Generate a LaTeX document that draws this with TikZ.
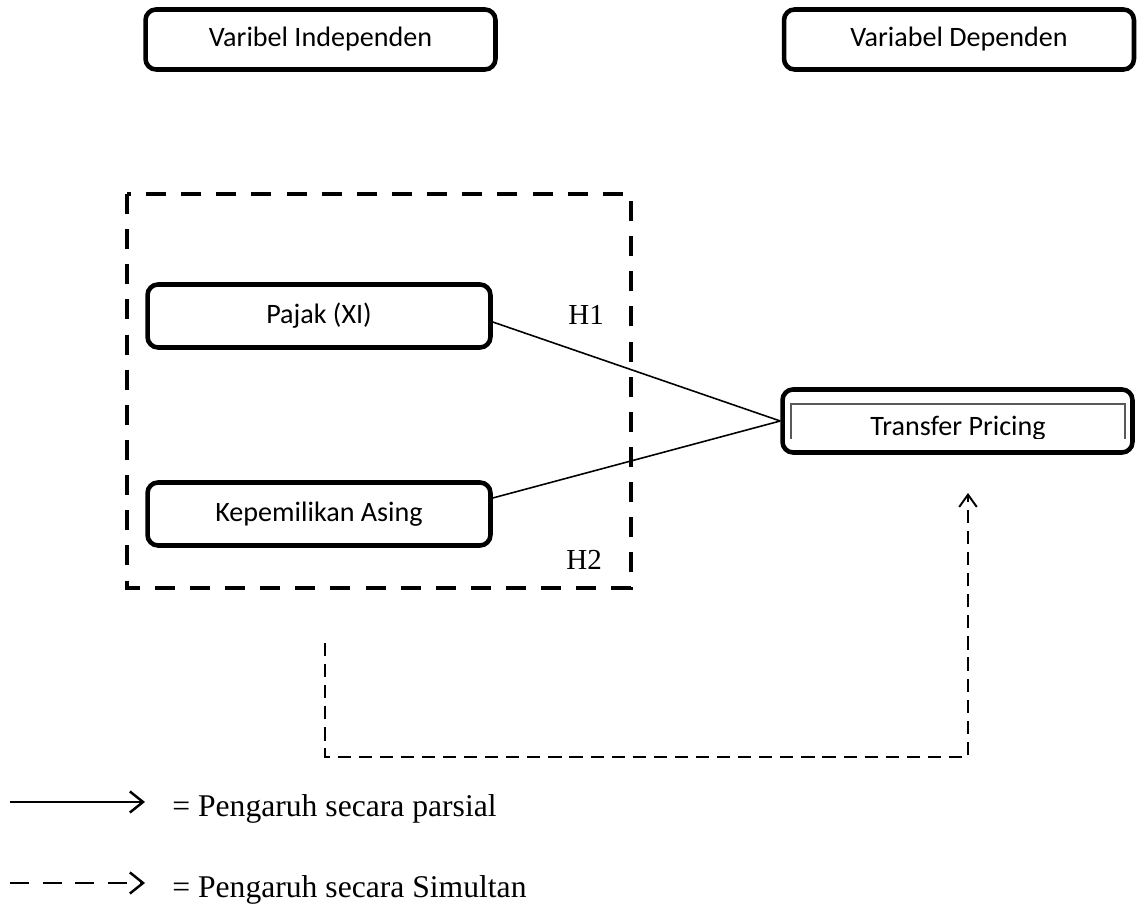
\documentclass[tikz,border=0pt]{standalone}
\usepackage{fontspec}
\setmainfont{Liberation Serif}
\newfontfamily\boxfont{Carlito}
\usetikzlibrary{arrows.meta}

\tikzset{
  varbox/.style={draw, line width=2.6pt, rounded corners=6pt, inner sep=0pt,
    font=\boxfont\fontsize{16}{19}\selectfont},
  groupframe/.style={draw, line width=2.8pt, dash pattern=on 11.4pt off 8.6pt},
  partial/.style={line width=0.9pt},
  simul/.style={line width=0.9pt, dash pattern=on 7.5pt off 4.5pt,
    -{Straight Barb[length=7pt,width=10pt,line width=1.1pt]}},
  keysolid/.style={line width=1.3pt, -{Straight Barb[length=7.5pt,width=12pt,line width=1.4pt]}},
  keydash/.style={line width=1.4pt, dash pattern=on 11pt off 7.5pt,
    -{Straight Barb[length=7.5pt,width=12pt,line width=1.4pt]}},
  hyp/.style={inner sep=0pt, anchor=base west, font=\fontsize{16.5}{19}\selectfont},
  keytext/.style={inner sep=0pt, anchor=base west, font=\fontsize{18}{21}\selectfont},
}

\begin{document}
\begin{tikzpicture}[x=0.02cm, y=-0.02cm]
\useasboundingbox (0,0) rectangle (1140,911);

% header boxes
\node[varbox, minimum width=7.00cm, minimum height=1.20cm] (vi) at (320.5,39.5) {Varibel Independen};
\node[varbox, minimum width=7.00cm, minimum height=1.20cm] (vd) at (959,39.5) {Variabel Dependen};

% dashed frame round the independent variables
\draw[groupframe] (127,194) rectangle (631,588);

% independent variables
\node[varbox, minimum width=6.86cm, minimum height=1.26cm] (pj) at (319,316) {Pajak (XI)};
\node[varbox, minimum width=6.86cm, minimum height=1.26cm] (ka) at (319,514) {Kepemilikan Asing};

% dependent variable with its inner frame
\node[varbox, minimum width=7.00cm, minimum height=1.26cm] (tp) at (957.5,421) {};
\draw[gray!70!black, line width=0.8pt] (791,439) -- (791,404) -- (1125,404) -- (1125,439);
\begin{scope}
  \clip (785,404) rectangle (1130,439);
  \node[inner sep=0pt, anchor=base, font=\boxfont\fontsize{16}{19}\selectfont] (tpt) at (958,436) {Transfer Pricing};
\end{scope}

% partial effects
\draw[partial] ([yshift=-0.12cm]pj.east) -- (tp.west);
\draw[partial] ([yshift=0.32cm]ka.east) -- (tp.west);
\node[hyp] (h1) at (568,325) {H1};
\node[hyp] (h2) at (566,570) {H2};

% simultaneous effect
\coordinate (s0) at (325,643);
\coordinate (s1) at (968,757);
\coordinate (s2) at (968,493);
\draw[simul] (s0) |- (s1) -- (s2);

% key
\coordinate (k1a) at (10,802);
\coordinate (k1b) at (145,802);
\coordinate (k2a) at (10,883);
\coordinate (k2b) at (145,883);
\draw[keysolid] (k1a) -- (k1b);
\draw[keydash] (k2a) -- (k2b);
\node[keytext] (t1) at (172,817) {= Pengaruh secara parsial};
\node[keytext] (t2) at (172,898) {= Pengaruh secara Simultan};
\end{tikzpicture}
\end{document}
